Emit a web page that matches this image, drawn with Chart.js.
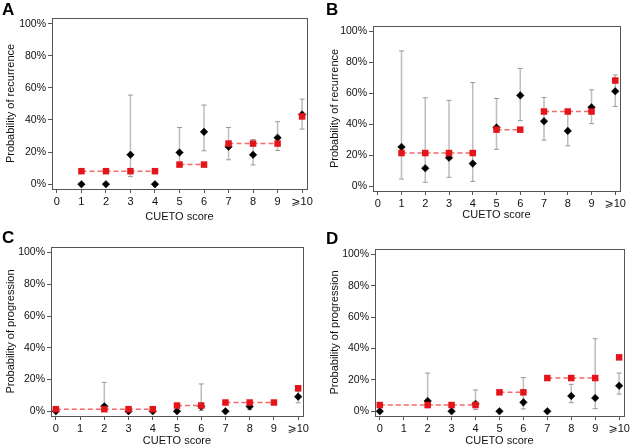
<!DOCTYPE html>
<html><head><meta charset="utf-8">
<script src="https://cdn.jsdelivr.net/npm/chart.js@4"></script>
<style>
html,body{margin:0;padding:0;background:#fff}
body{width:632px;height:448px;position:relative;overflow:hidden}
.p{position:absolute;width:316px;height:224px}
.p canvas{position:absolute;left:0;top:0}
.lbl{position:absolute;font:bold 17px "Liberation Sans",Arial,sans-serif;line-height:17px;color:#000}
</style></head><body>
<div class="p" style="left:0;top:0"><canvas id="cA" width="316" height="224"></canvas></div>
<div class="p" style="left:316px;top:0"><canvas id="cB" width="316" height="224"></canvas></div>
<div class="p" style="left:0;top:224px"><canvas id="cC" width="316" height="224"></canvas></div>
<div class="p" style="left:316px;top:224px"><canvas id="cD" width="316" height="224"></canvas></div>
<div class="lbl" style="left:2px;top:1px">A</div>
<div class="lbl" style="left:326px;top:1px">B</div>
<div class="lbl" style="left:2px;top:229px">C</div>
<div class="lbl" style="left:326px;top:230px">D</div>
<script>
// ---- Data ----
const xTickValues = [0,1,2,3,4,5,6,7,8,9,10];
const xTickLabels = ['0','1','2','3','4','5','6','7','8','9','\u2A7E10'];
const yTickValues = [0,20,40,60,80,100];
const xTitle = 'CUETO score';

// Panel A: recurrence
const scoresA    = [1,2,3,4,5,6,7,8,9,10];
const observedA  = [0,0,18.3,0,19.7,32.6,23.3,18.3,28.9,43.4];
const ciLowA     = [null,null,4.7,null,11,20.8,15.2,12,21,34.3];
const ciHighA    = [null,null,55.5,null,35.3,49.3,35.3,27.8,38.9,53];
const predictedA = [8.1,8.1,8.1,8.1,12.2,12.2,25.3,25.3,25.3,42.2];
const groupA     = [1,1,1,1,2,2,3,3,3,4];

// Panel B: recurrence
const scoresB    = [1,2,3,4,5,6,7,8,9,10];
const observedB  = [25.4,11.7,18.5,14.7,38,58.7,42,35.8,51,61.4];
const ciLowB     = [4.7,2.6,5.8,3.2,23.9,42.4,29.9,26.2,40.5,51.6];
const ciHighB    = [87.4,57.2,55.5,67,56.7,76.1,57.4,49,62.3,71.9];
const predictedB = [21.5,21.5,21.5,21.5,36.6,36.6,48.3,48.3,48.3,68.3];
const groupB     = [1,1,1,1,2,2,3,3,3,4];

// Panel C: progression
const scoresC    = [0,2,3,4,5,6,7,8,9,10];
const observedC  = [0,3.1,0,0,0,3,0,3,null,9.2];
const ciLowC     = [null,0.5,null,null,null,0.5,null,1,null,5.3];
const ciHighC    = [null,18.2,null,null,null,17.2,null,6.7,null,12.6];
const predictedC = [1.3,1.3,1.3,1.3,3.6,3.6,5.5,5.5,5.5,14.5];
const groupC     = [1,1,1,1,2,2,3,3,3,4];

// Panel D: progression
const scoresD    = [0,2,3,4,5,6,7,8,9,10];
const observedD  = [0,6.6,0,4.7,0,5.7,0,9.8,8.5,16.3];
const ciLowD     = [null,2.3,null,1.1,null,1.5,null,5.5,1.7,11];
const ciHighD    = [null,24.4,null,13.6,null,21.5,null,17.2,46.3,24.4];
const predictedD = [4,4,4,4,12.1,12.1,21.2,21.2,21.2,34.4];
const groupD     = [1,1,1,1,2,2,3,3,3,4];

// ---- Rendering ----
const FONT = '"Liberation Sans", Arial, "DejaVu Sans", sans-serif';
Chart.defaults.font.family = FONT;
Chart.defaults.font.size = 10.5;
Chart.defaults.color = '#111';

const framePlugin = {
  id: 'frame',
  afterDraw(chart) {
    const a = chart.chartArea, ctx = chart.ctx;
    ctx.save();
    ctx.strokeStyle = '#555';
    ctx.lineWidth = 1;
    ctx.strokeRect(Math.round(a.left) + 0.5, Math.round(a.top) + 0.5,
                   Math.round(a.right - a.left), Math.round(a.bottom - a.top));
    ctx.restore();
  }
};

function errData(scores, lo, hi) {
  const out = [];
  scores.forEach((s, i) => {
    if (lo[i] == null || hi[i] == null) return;
    out.push({x: s, y: lo[i]}, {x: s, y: hi[i]}, {x: s, y: null});
  });
  return out;
}
function ptData(scores, vals) {
  return scores.map((s, i) => ({x: s, y: vals[i]})).filter(p => p.y != null);
}
function groupedData(scores, vals, groups) {
  const out = [];
  scores.forEach((s, i) => {
    if (i > 0 && groups[i] !== groups[i-1]) out.push({x: s, y: null});
    out.push({x: s, y: vals[i]});
  });
  return out;
}

function makeChart(id, scores, obs, lo, hi, pred, grp, yTitle, L) {
  new Chart(document.getElementById(id), {
    type: 'scatter',
    data: {
      datasets: [
        {
          label: 'predicted', data: groupedData(scores, pred, grp), showLine: true, spanGaps: false,
          borderColor: '#f26b6b', borderWidth: 1.5, borderDash: [5, 3],
          pointStyle: 'rect', pointRadius: 4.6, pointHoverRadius: 4.6,
          pointBackgroundColor: '#e3151b', pointBorderWidth: 0, order: 1
        },
        {
          label: 'observed', data: ptData(scores, obs), showLine: false,
          pointStyle: 'rectRot', pointRadius: 3.8, pointHoverRadius: 3.8,
          pointBackgroundColor: '#000', pointBorderColor: '#000', pointBorderWidth: 0.5, order: 2
        },
        {
          label: 'ci', data: errData(scores, lo, hi), showLine: true, spanGaps: false,
          borderColor: '#bdbdbd', borderWidth: 1.5,
          pointStyle: 'line', pointRadius: 2.5, pointHoverRadius: 2.5,
          pointBorderColor: '#9a9a9a', pointBorderWidth: 1, order: 3
        }
      ]
    },
    options: {
      responsive: false, animation: false,
      events: [],
      layout: {padding: {left: L.padL, top: L.top, right: L.right, bottom: L.padB}},
      plugins: {legend: {display: false}, tooltip: {enabled: false}},
      scales: {
        x: {
          type: 'linear', min: -0.2, max: 10.2,
          afterBuildTicks: s => { s.ticks = xTickValues.map(v => ({value: v})); },
          afterFit: s => { s.height = L.xh; },
          ticks: {autoSkip: false, maxRotation: 0, padding: 2, color: '#111', font: {size: 11},
                  callback: (v) => xTickLabels[xTickValues.indexOf(v)]},
          grid: {display: true, drawOnChartArea: false, tickLength: 4, color: '#555'},
          border: {display: false},
          title: {display: true, text: xTitle, color: '#111', font: {size: 11}, padding: 0}
        },
        y: {
          type: 'linear', min: -3, max: 103.5,
          afterBuildTicks: s => { s.ticks = yTickValues.map(v => ({value: v})); },
          afterFit: s => { s.width = L.yw; },
          ticks: {padding: 2, color: '#111', font: {size: 10.5}, callback: v => v + '%'},
          grid: {display: true, drawOnChartArea: false, tickLength: 4, color: '#555'},
          border: {display: false},
          title: {display: true, text: yTitle, color: '#111', font: {size: 11}, padding: {top: L.ytp, bottom: 0}}
        }
      }
    },
    plugins: [framePlugin]
  });
}

makeChart('cA', scoresA, observedA, ciLowA, ciHighA, predictedA, groupA, 'Probability of recurrence',
  {padL: 0, top: 18, right: 9, padB: 0, yw: 52, xh: 224 - 0 - 189});
makeChart('cB', scoresB, observedB, ciLowB, ciHighB, predictedB, groupB, 'Probability of recurrence',
  {padL: 8, top: 26, right: 12, padB: 2, yw: 49, xh: 224 - 2 - 191});
makeChart('cC', scoresC, observedC, ciLowC, ciHighC, predictedC, groupC, 'Probability of progression',
  {padL: 0, top: 23, right: 13, padB: 0, yw: 51, xh: 224 - 0 - 192});
makeChart('cD', scoresD, observedD, ciLowD, ciHighD, predictedD, groupD, 'Probability of progression',
  {padL: 8, top: 25, right: 7, padB: 0, yw: 51, xh: 224 - 0 - 192});
</script>
</body></html>
